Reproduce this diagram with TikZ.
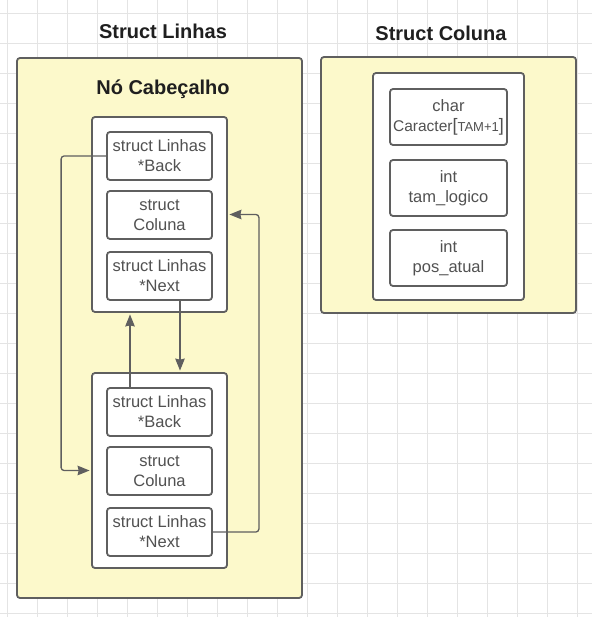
\documentclass[tikz,border=0pt]{standalone}
\usepackage{fontspec}
\setmainfont{Liberation Sans}
\usetikzlibrary{arrows.meta}

\definecolor{paleyellow}{HTML}{FCF9CB}
\definecolor{linegray}{HTML}{5F5F5F}
\definecolor{textgray}{HTML}{515151}
\definecolor{gridgray}{HTML}{E4E4E4}

\begin{document}
\begin{tikzpicture}[x=1pt, y=-1pt,
  caption/.style={font=\bfseries\fontsize{20}{24}\selectfont, text=black!88},
  panel/.style={draw=linegray, fill=paleyellow, line width=1.8pt, rounded corners=3pt, inner sep=0pt},
  record/.style={draw=linegray, fill=white, line width=1.8pt, rounded corners=3pt, inner sep=0pt},
  field/.style={record, text=textgray, align=center, font=\fontsize{16.5}{20}\selectfont,
    minimum width=105pt, minimum height=48pt},
  wfield/.style={field, minimum width=117pt, minimum height=56pt},
  link/.style={draw=linegray, line width=1.3pt, rounded corners=3pt, shorten >=1.5pt,
    -{Stealth[length=12pt,width=9.5pt,inset=1pt]}}]

% Background grid
\useasboundingbox (0,0) rectangle (592,617);
\fill[white] (0,0) rectangle (592,617);
\foreach \gx in {7,37,...,577} \draw[gridgray, line width=0.8pt] (\gx,0) -- (\gx,617);
\foreach \gy in {13,43,...,613} \draw[gridgray, line width=0.8pt] (0,\gy) -- (592,\gy);

% Titles
\node[caption] (ttlLinhas) at (163,31) {Struct Linhas};
\node[caption] (ttlColuna) at (441,33) {Struct Coluna};

% Struct Linhas panel
\node[panel, minimum width=285pt, minimum height=540pt] (pnlLinhas) at (159.5,328) {};
\node[caption] (ttlCabecalho) at (163,89) {Nó Cabeçalho};

% First node (head)
\node[record, minimum width=135pt, minimum height=195pt] (rec1) at (159.5,214.5) {};
\node[field] (back1) at (159.5,156) {struct Linhas\\*Back};
\node[field] (col1) at (159.5,215) {struct\\Coluna};
\node[field] (next1) at (159.5,276) {struct Linhas\\*Next};

% Second node
\node[record, minimum width=135pt, minimum height=195pt] (rec2) at (159.5,470.5) {};
\node[field] (back2) at (159.5,412) {struct Linhas\\*Back};
\node[field] (col2) at (159.5,471) {struct\\Coluna};
\node[field] (next2) at (159.5,532) {struct Linhas\\*Next};

% Struct Coluna panel
\node[panel, minimum width=255pt, minimum height=256pt] (pnlColuna) at (448.5,185) {};
\node[record, minimum width=151pt, minimum height=227pt] (recCol) at (448.5,186.5) {};
\node[wfield] (charF) at (448.5,117) {char\\\fontsize{15.5}{20}\selectfont Caracter%
  \fontsize{18}{20}\selectfont[\fontsize{13}{20}\selectfont TAM+1\fontsize{18}{20}\selectfont]};
\node[wfield] (tamF) at (448.5,188) {int\\tam\_logico};
\node[wfield] (posF) at (448.5,258) {int\\pos\_atual};

% Pointers
\draw[link] (back1.west) -- ++(-45,0) |- (rec2.west);
\draw[link] ([xshift=20.5pt]next1.south) -- ([xshift=20.5pt]rec2.north);
\draw[link] ([xshift=-29.5pt]back2.north) -- ([xshift=-29.5pt]rec1.south);
\draw[link] (next2.east) -- ++(46,0) |- (rec1.east);

\end{tikzpicture}
\end{document}
